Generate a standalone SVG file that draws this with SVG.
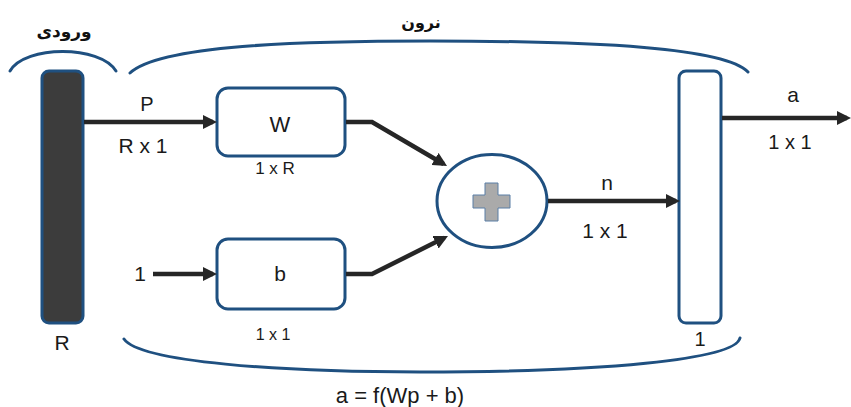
<svg xmlns="http://www.w3.org/2000/svg" width="851" height="407" viewBox="0 0 851 407">
<style>
.t{font-family:"Liberation Sans",Arial,sans-serif;fill:#1a1a1a}
.fa{font-family:"DejaVu Sans",sans-serif;font-weight:bold;fill:#111}
.box{fill:#fff;stroke:#1f5080;stroke-width:3}
.brace{fill:none;stroke:#1f5080;stroke-width:3;stroke-linecap:round}
.ar{fill:none;stroke:#262626;stroke-width:4.5}
</style>
<defs>
<marker id="ah" viewBox="0 0 14 14" refX="10" refY="7" markerWidth="14" markerHeight="14" markerUnits="userSpaceOnUse" orient="auto">
<path d="M0,0 L14,7 L0,14 z" fill="#262626"/>
</marker>
</defs>
<g id="braces">
<path class="brace" d="M10,71 C25,45 100,45 116,71"/>
<path class="brace" d="M130,73 C160,45 300,41 430,41 C600,41 725,48 748,72"/>
<path class="brace" d="M124,339 C140,362 280,372 420,372 C600,372 735,360 740,338"/>
</g>
<g id="input">
<rect x="42" y="71" width="41" height="252" rx="7" fill="#3c3c3c" stroke="#1f5080" stroke-width="3"/>
<text class="t" x="62" y="350" font-size="21" text-anchor="middle">R</text>
<text class="fa" x="64" y="37" font-size="17" text-anchor="middle">ورودی</text>
</g>
<g id="neuron-label">
<text class="fa" x="421" y="28" font-size="16" text-anchor="middle">نرون</text>
</g>
<g id="W">
<rect class="box" x="217" y="88" width="128" height="68" rx="11"/>
<text class="t" x="280" y="132" font-size="22" text-anchor="middle">W</text>
<text class="t" x="275" y="174" font-size="17" text-anchor="middle">1 x R</text>
</g>
<g id="b">
<rect class="box" x="217" y="239" width="128" height="70" rx="11"/>
<text class="t" x="280" y="281" font-size="21" text-anchor="middle">b</text>
<text class="t" x="273" y="340" font-size="16" text-anchor="middle">1 x 1</text>
</g>
<g id="sum">
<ellipse cx="492" cy="201" rx="55" ry="46.5" fill="#fff" stroke="#1f5080" stroke-width="3"/>
<path d="M485,183 H498 V195 H510 V208 H498 V221 H485 V208 H473 V195 H485 Z" fill="#aaaaaa" stroke="#5b7fa6" stroke-width="1"/>
</g>
<g id="output">
<rect class="box" x="679" y="71" width="42" height="252" rx="7"/>
<text class="t" x="700" y="346" font-size="20" text-anchor="middle">1</text>
</g>
<g id="connectors">
<line class="ar" x1="84" y1="122" x2="213" y2="122" marker-end="url(#ah)"/>
<line class="ar" x1="153" y1="274" x2="213" y2="274" marker-end="url(#ah)"/>
<polyline class="ar" points="346,122 372,122 443.6,164" marker-end="url(#ah)"/>
<polyline class="ar" points="346,274 372,274 444.4,237.8" marker-end="url(#ah)"/>
<line class="ar" x1="548" y1="201" x2="676" y2="201" marker-end="url(#ah)"/>
<line class="ar" x1="722" y1="118" x2="847" y2="118" marker-end="url(#ah)"/>
</g>
<g id="labels">
<text class="t" x="147" y="111" font-size="20" text-anchor="middle">P</text>
<text class="t" x="143" y="153" font-size="21" text-anchor="middle">R x 1</text>
<text class="t" x="140" y="281" font-size="21" text-anchor="middle">1</text>
<text class="t" x="607" y="190" font-size="21" text-anchor="middle">n</text>
<text class="t" x="605" y="238" font-size="21" text-anchor="middle">1 x 1</text>
<text class="t" x="793" y="102" font-size="21" text-anchor="middle">a</text>
<text class="t" x="790" y="149" font-size="20" text-anchor="middle">1 x 1</text>
<text class="t" x="400" y="403" font-size="22" text-anchor="middle">a = f(Wp + b)</text>
</g>
</svg>
